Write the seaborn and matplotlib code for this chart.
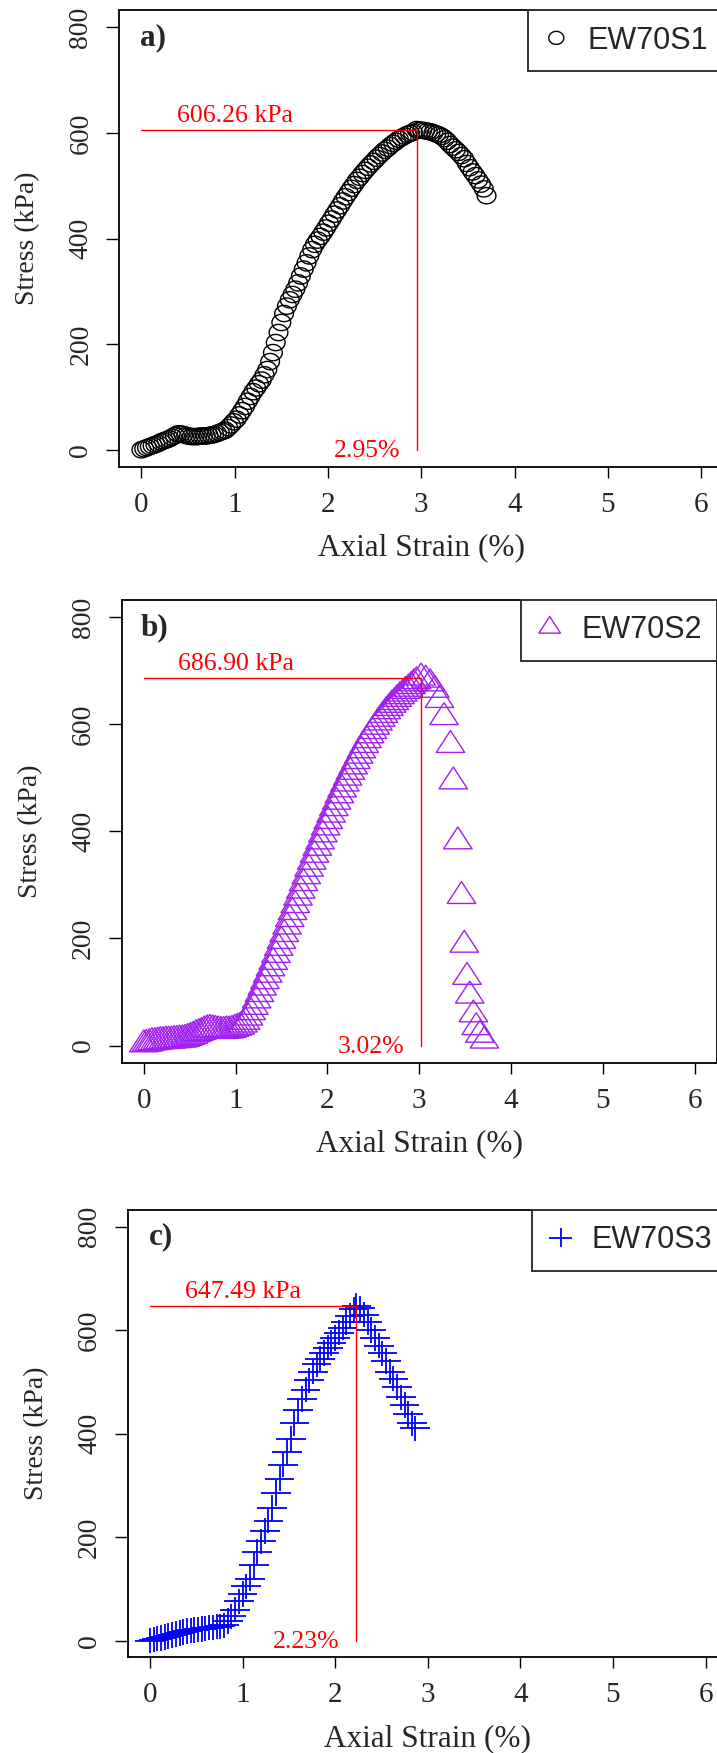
import numpy as np
import pandas as pd
import matplotlib
matplotlib.use('Agg')
import matplotlib.pyplot as plt
from matplotlib.path import Path
from matplotlib import transforms as mtransforms
import seaborn as sns

sns.set_style('ticks')
plt.rcParams['font.family'] = ['Liberation Serif', 'DejaVu Serif']

# ---- data ----
samples = ['EW70S1', 'EW70S2', 'EW70S3']
panel_tags = ['a)', 'b)', 'c)']
peak_strain = [2.95, 3.02, 2.23]
peak_stress = [606.26, 686.90, 647.49]

a_strain = [0.00, 0.03, 0.06, 0.09, 0.12, 0.15, 0.18, 0.21, 0.24, 0.27,
            0.30, 0.33, 0.36, 0.39, 0.42, 0.45, 0.48, 0.51, 0.54, 0.57,
            0.60, 0.63, 0.66, 0.69, 0.72, 0.75, 0.78, 0.81, 0.84, 0.87,
            0.90, 0.93, 0.96, 0.99, 1.02, 1.05, 1.08, 1.11, 1.14, 1.17,
            1.20, 1.23, 1.26, 1.29, 1.32, 1.35, 1.38, 1.41, 1.44, 1.47,
            1.50, 1.53, 1.56, 1.59, 1.62, 1.65, 1.68, 1.71, 1.74, 1.77,
            1.80, 1.83, 1.86, 1.89, 1.92, 1.95, 1.98, 2.01, 2.04, 2.07,
            2.10, 2.13, 2.16, 2.19, 2.22, 2.25, 2.28, 2.31, 2.34, 2.37,
            2.40, 2.43, 2.46, 2.49, 2.52, 2.55, 2.58, 2.61, 2.64, 2.67,
            2.70, 2.73, 2.76, 2.79, 2.82, 2.85, 2.88, 2.91, 2.95, 2.98,
            3.01, 3.04, 3.07, 3.10, 3.13, 3.16, 3.19, 3.22, 3.25, 3.28,
            3.31, 3.34, 3.37, 3.40, 3.43, 3.46, 3.49, 3.52, 3.55, 3.58,
            3.61, 3.64, 3.67, 3.70]
a_stress = [0, 2, 4, 6, 8, 10, 12, 15, 17, 19,
            21, 24, 27, 30, 30, 29, 27, 26, 25, 25,
            25, 26, 26, 26, 27, 28, 29, 31, 33, 35,
            37, 42, 47, 53, 58, 66, 74, 82, 92, 101,
            110, 117, 125, 132, 142, 152, 167, 184, 203, 222,
            241, 258, 272, 284, 294, 304, 316, 329, 342, 354,
            367, 379, 389, 397, 404, 412, 420, 429, 437, 446,
            454, 462, 471, 479, 487, 495, 502, 510, 516, 523,
            529, 535, 541, 546, 552, 557, 562, 567, 571, 576,
            580, 584, 588, 591, 594, 597, 599, 601, 606.26, 605,
            605, 604, 603, 602, 600, 598, 596, 593, 589, 584,
            578, 573, 568, 563, 557, 551, 542, 534, 526, 519,
            511, 503, 494, 481]

b_strain = [0.00, 0.03, 0.06, 0.09, 0.12, 0.15, 0.18, 0.21, 0.24, 0.27,
            0.30, 0.33, 0.36, 0.39, 0.42, 0.45, 0.48, 0.51, 0.54, 0.57,
            0.60, 0.63, 0.66, 0.69, 0.72, 0.75, 0.78, 0.81, 0.84, 0.87,
            0.90, 0.93, 0.96, 0.99, 1.02, 1.05, 1.08, 1.11, 1.14, 1.17,
            1.20, 1.23, 1.26, 1.29, 1.32, 1.35, 1.38, 1.41, 1.44, 1.47,
            1.50, 1.53, 1.56, 1.59, 1.62, 1.65, 1.68, 1.71, 1.74, 1.77,
            1.80, 1.83, 1.86, 1.89, 1.92, 1.95, 1.98, 2.01, 2.04, 2.07,
            2.10, 2.13, 2.16, 2.19, 2.22, 2.25, 2.28, 2.31, 2.34, 2.37,
            2.40, 2.43, 2.46, 2.49, 2.52, 2.55, 2.58, 2.61, 2.64, 2.67,
            2.70, 2.73, 2.76, 2.79, 2.82, 2.85, 2.88, 2.91, 2.94, 2.97,
            3.02, 3.07, 3.12, 3.17, 3.22, 3.27, 3.34, 3.37, 3.42, 3.46,
            3.49, 3.52, 3.55, 3.59, 3.62, 3.66, 3.71]
b_stress = [2, 3, 4, 6, 6, 7, 8, 8, 9, 9,
            9, 10, 10, 11, 11, 12, 14, 16, 18, 21,
            23, 25, 28, 30, 31, 30, 29, 28, 27, 27,
            28, 28, 29, 31, 33, 35, 39, 44, 52, 62,
            72, 84, 96, 108, 120, 132, 144, 156, 169, 182,
            195, 208, 222, 236, 249, 262, 276, 289, 303, 316,
            330, 343, 356, 369, 381, 394, 407, 419, 431, 443,
            455, 467, 478, 489, 500, 511, 521, 531, 541, 551,
            561, 570, 579, 587, 595, 603, 610, 617, 624, 630,
            636, 641, 647, 652, 657, 662, 666, 671, 676, 680,
            686.90, 683, 676, 664, 645, 613, 561, 493, 381, 279,
            188, 128, 93, 58, 34, 20, 9]

c_strain = [0.00, 0.04, 0.08, 0.12, 0.16, 0.20, 0.24, 0.28, 0.32, 0.36,
            0.40, 0.44, 0.48, 0.52, 0.56, 0.60, 0.64, 0.68, 0.72, 0.76,
            0.80, 0.84, 0.88, 0.92, 0.96, 1.00, 1.04, 1.08, 1.12, 1.16,
            1.20, 1.24, 1.28, 1.32, 1.36, 1.40, 1.44, 1.48, 1.52, 1.56,
            1.60, 1.64, 1.68, 1.72, 1.76, 1.80, 1.84, 1.88, 1.92, 1.96,
            2.00, 2.04, 2.08, 2.12, 2.16, 2.20, 2.23, 2.27, 2.31, 2.35,
            2.39, 2.43, 2.47, 2.51, 2.55, 2.59, 2.63, 2.67, 2.71, 2.75,
            2.79, 2.83, 2.86]
c_stress = [0, 2, 4, 5, 7, 9, 11, 13, 15, 17,
            19, 20, 21, 22, 23, 24, 25, 26, 27, 28,
            30, 38, 47, 60, 76, 90, 105, 120, 146, 172,
            192, 212, 232, 256, 285, 313, 340, 365, 390, 420,
            445, 467, 485, 503, 520, 534, 545, 556, 566, 575,
            585, 595, 605, 615, 628, 640, 647.49, 642, 630, 615,
            600, 585, 570, 555, 540, 520, 506, 490, 470, 455,
            438, 420, 410]

strains = [a_strain, b_strain, c_strain]
stresses = [a_stress, b_stress, c_stress]

# ---- marker shapes (R pch 1, 2, 3; picture is slightly stretched sideways) ----
t = np.linspace(0, 2 * np.pi, 41)
circle_mk = Path(np.column_stack([np.cos(t), np.sin(t) / 1.15]), closed=True)
tri_mk = Path([(0, 1), (-0.975, -0.5), (0.975, -0.5), (0, 1)], closed=True)
plus_mk = Path([(-1.17, 0), (1.17, 0), (0, -1), (0, 1)],
               [Path.MOVETO, Path.LINETO, Path.MOVETO, Path.LINETO])

markers = [circle_mk, tri_mk, plus_mk]
sizes = [13.5 ** 2, 21 ** 2, 21.4 ** 2]
edge_widths = [1.0, 1.0, 1.3]
leg_scale = [0.8, 0.76, 0.78]
colors = ['black', '#A020F0', '#0000FF']

# axes boxes in pixels: left, top, right, bottom
boxes = [(119, 10.3, 723.5, 466.7),
         (121.7, 600, 716.8, 1062.7),
         (127.7, 1210, 727.8, 1657.3)]

W, H = 717, 1753
fig = plt.figure(figsize=(W / 100, H / 100), dpi=100)

for i in range(3):
    l, tp, r, b = boxes[i]
    ax = fig.add_axes([l / W, 1 - b / H, (r - l) / W, (b - tp) / H])

    df = pd.DataFrame({'strain': strains[i], 'stress': stresses[i]})
    sns.scatterplot(data=df, x='strain', y='stress', marker=markers[i], s=sizes[i],
                    facecolors='none', edgecolor=colors[i], linewidth=edge_widths[i],
                    label=samples[i], ax=ax, zorder=2)

    # peak markers
    px, py = peak_strain[i], peak_stress[i]
    ax.plot([0, px], [py, py], color='red', lw=1.0, zorder=3)
    ax.plot([px, px], [0, py], color='red', lw=1.0, zorder=3)
    ax.text(1.0, py + 14, f'{py:.2f} kPa', color='red', fontsize=18.5,
            ha='center', va='baseline')
    ax.annotate(f'{px:.2f}%', xy=(px, 0), xytext=(-12, -5), textcoords='offset points',
                color='red', fontsize=18.5, ha='right', va='baseline')

    ax.text(0.12, 780, panel_tags[i], fontsize=22.5, fontweight='bold',
            ha='center', va='center')

    ax.set_xlim(-0.24, 6.24)
    ax.set_ylim(-32, 832)
    ax.set_xticks([0, 1, 2, 3, 4, 5, 6])
    ax.set_yticks([0, 200, 400, 600, 800])
    ax.tick_params(axis='x', length=7.7, width=1.0, pad=10.3, labelsize=21,
                   direction='out', color='black')
    ax.tick_params(axis='y', length=9.4, width=1.0, pad=9, labelsize=20,
                   direction='out', color='black', labelrotation=90)
    plt.setp(ax.get_yticklabels(), va='center')
    for sp in ax.spines.values():
        sp.set_visible(True)
        sp.set_linewidth(1.3)
        sp.set_color('black')

    ax.set_xlabel('Axial Strain (%)', fontsize=22.5, va='center')
    ax.xaxis.set_label_coords(0.5, 0, transform=ax.transAxes +
                              mtransforms.ScaledTranslation(0, -0.81, fig.dpi_scale_trans))
    ax.set_ylabel('Stress (kPa)', fontsize=20, va='center')
    ax.yaxis.set_label_coords(0, 0.5, transform=ax.transAxes +
                              mtransforms.ScaledTranslation(-0.91, 0, fig.dpi_scale_trans))

    leg = ax.legend(loc='upper right', bbox_to_anchor=(1, 1), borderaxespad=0,
                    frameon=True, fancybox=False, framealpha=1, edgecolor='#333333',
                    prop={'family': 'Liberation Sans', 'size': 22},
                    handlelength=0.85, handletextpad=0.6, borderpad=0.5,
                    markerscale=leg_scale[i], scatterpoints=1, scatteryoffsets=[0.5])
    leg.get_frame().set_linewidth(1.4)

fig.savefig('out.png', dpi=100)
